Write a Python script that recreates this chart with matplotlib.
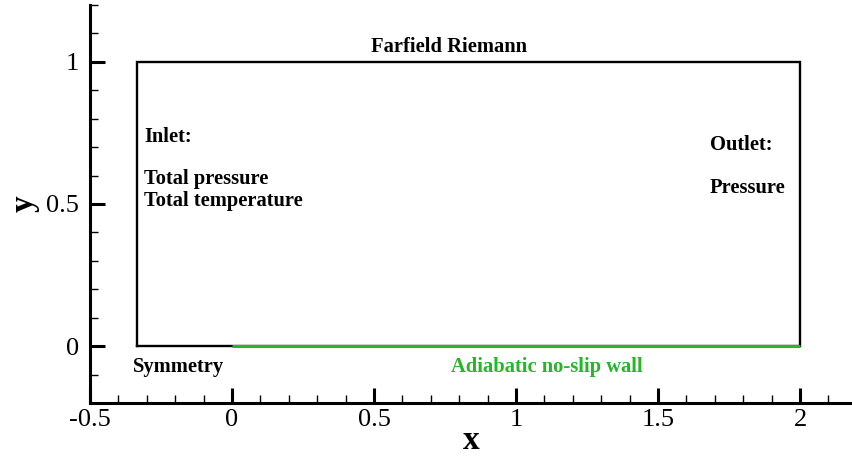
import matplotlib
matplotlib.use("Agg")
import matplotlib.pyplot as plt
from matplotlib.ticker import MultipleLocator

# Domain geometry (data)
box_x = [-0.333, 2.0, 2.0, -0.333, -0.333]
box_y = [0.0, 0.0, 1.0, 1.0, 0.0]
wall_x = [0.0, 2.0]
wall_y = [0.0, 0.0]

# Boundary-condition labels: text, x, y (baseline), alignment, colour
labels = [
    ("Farfield Riemann", 0.763, 1.036, "center", "black"),
    ("Inlet:", -0.310, 0.719, "left", "black"),
    ("Total pressure", -0.310, 0.570, "left", "black"),
    ("Total temperature", -0.310, 0.493, "left", "black"),
    ("Outlet:", 1.683, 0.690, "left", "black"),
    ("Pressure", 1.683, 0.538, "left", "black"),
    ("Symmetry", -0.187, -0.090, "center", "black"),
    ("Adiabatic no-slip wall", 1.110, -0.090, "center", "#25b825"),
]

x_ticks = [-0.5, 0, 0.5, 1, 1.5, 2]
x_ticklabels = ["-0.5", "0", "0.5", "1", "1.5", "2"]
y_ticks = [0, 0.5, 1]
y_ticklabels = ["0", "0.5", "1"]

plt.rcParams['font.family'] = ['Liberation Serif', 'DejaVu Serif']

fig = plt.figure(figsize=(8.52, 4.59), dpi=100)
ax = fig.add_axes([90/852, 56/459, (852-90)/852, (403-5)/459])

ax.plot(box_x, box_y, color="black", lw=1.7, solid_joinstyle="miter")
ax.plot(wall_x, wall_y, color="#25b825", lw=2.2, solid_capstyle="butt")

for txt, x, y, ha, c in labels:
    ax.text(x, y, txt, ha=ha, va="baseline", fontsize=14.8, fontweight="bold", color=c)

ax.set_xlim(-0.5, 2.183)
ax.set_ylim(-0.2, 1.2)
ax.spines['top'].set_visible(False)
ax.spines['right'].set_visible(False)
ax.spines['left'].set_linewidth(2.2)
ax.spines['bottom'].set_linewidth(2.2)
ax.xaxis.set_minor_locator(MultipleLocator(0.1))
ax.yaxis.set_minor_locator(MultipleLocator(0.1))
ax.set_xticks(x_ticks)
ax.set_xticklabels(x_ticklabels)
ax.set_yticks(y_ticks)
ax.set_yticklabels(y_ticklabels)
ax.tick_params(which="major", direction="in", length=11, width=2.2, labelsize=19)
ax.tick_params(axis="x", which="major", pad=4)
ax.tick_params(axis="y", which="major", pad=8)
ax.tick_params(which="minor", direction="in", length=6, width=1)
ax.set_xlabel("x", fontsize=24, fontweight="bold", labelpad=-4)
ax.set_ylabel("y", fontsize=24, fontweight="bold")
ax.yaxis.set_label_coords(-0.066, 0.5)

fig.savefig("out.png", dpi=100)
